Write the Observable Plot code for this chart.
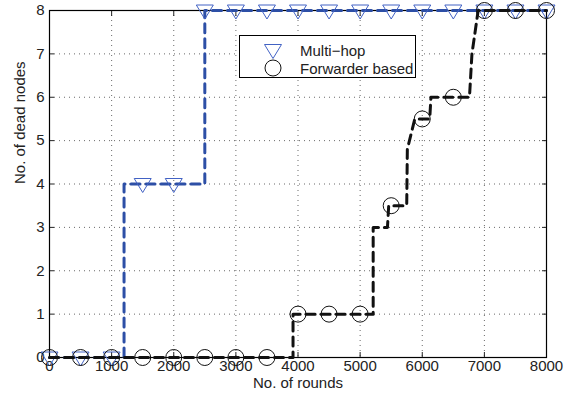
<!DOCTYPE html>
<html>
<head>
<meta charset="utf-8">
<script src="https://cdn.jsdelivr.net/npm/d3@7"></script>
<script src="https://cdn.jsdelivr.net/npm/@observablehq/plot@0.6"></script>
<style>
  html, body { margin: 0; padding: 0; background: #fff; }
  #wrap { position: relative; width: 574px; height: 398px; font-family: "Liberation Sans", Arial, sans-serif; }
  #legend { position: absolute; left: 239px; top: 35px; width: 175px; height: 41px; border: 1px solid #000; background: #fff; box-sizing: content-box; }
  #legend .row { position: absolute; left: 0; height: 18px; display: flex; align-items: center; font-size: 15px; color: #222; }
  #legend svg { width: 60px; height: 18px; }
</style>
</head>
<body>
<div id="wrap"></div>
<script>
// ---- data ----
const rounds = [0, 500, 1000, 1500, 2000, 2500, 3000, 3500, 4000, 4500, 5000, 5500, 6000, 6500, 7000, 7500, 8000];
const multiHop = [0, 0, 0, 4, 4, 8, 8, 8, 8, 8, 8, 8, 8, 8, 8, 8, 8];
const forwarder = [0, 0, 0, 0, 0, 0, 0, 0, 1, 1, 1, 3.5, 5.5, 6, 8, 8, 8];

const multiHopLineX = [0, 1200, 1200, 2500, 2500, 8000];
const multiHopLineY = [0, 0, 4, 4, 8, 8];
const forwarderLineX = [0, 3920, 3920, 5210, 5210, 5440, 5460, 5750, 5760, 5880, 6120, 6140, 6760, 6800, 6900, 8000];
const forwarderLineY = [0, 0, 1, 1, 3, 3, 3.5, 3.5, 4.8, 5.5, 5.5, 6, 6, 7, 8, 8];

const xTicks = [0, 1000, 2000, 3000, 4000, 5000, 6000, 7000, 8000];
const yTicks = [0, 1, 2, 3, 4, 5, 6, 7, 8];
const seriesNames = ["Multi\u2212hop", "Forwarder based"];
const xLabel = "No. of rounds";
const yLabel = "No. of dead nodes";

// ---- tables ----
const markers = rounds.map((r, i) => ({x: r, mh: multiHop[i], fw: forwarder[i]}));
const mhLine = multiHopLineX.map((x, i) => ({x, y: multiHopLineY[i]}));
const fwLine = forwarderLineX.map((x, i) => ({x, y: forwarderLineY[i]}));

const blueLine = "#2d4fa6";
const blueMark = "#4262c4";

const triDown = {
  draw(ctx) {
    ctx.moveTo(-8.5, -5.5);
    ctx.lineTo(8.5, -5.5);
    ctx.lineTo(0, 8.5);
    ctx.closePath();
  }
};

const gridStyle = {stroke: "#444", strokeOpacity: 0.8, strokeDasharray: "1,4"};

const chart = Plot.plot({
  width: 574,
  height: 398,
  marginLeft: 49,
  marginRight: 28,
  marginTop: 10,
  marginBottom: 41,
  style: {fontFamily: "'Liberation Sans', Arial, sans-serif", fontSize: "15px", color: "#222", background: "#fff"},
  x: {domain: [0, 8000]},
  y: {domain: [0, 8]},
  marks: [
    Plot.gridX(xTicks, gridStyle),
    Plot.gridY(yTicks, gridStyle),
    Plot.axisX(xTicks, {anchor: "bottom", tickSize: 0, tickPadding: 3, label: null, tickFormat: d => String(d)}),
    Plot.axisY(yTicks, {anchor: "left", tickSize: 0, tickPadding: 5, label: null, tickFormat: d => String(d)}),
    Plot.axisX(xTicks, {anchor: "bottom", tickSize: -5, label: null, tickFormat: () => ""}),
    Plot.axisX(xTicks, {anchor: "top", tickSize: -5, label: null, tickFormat: () => ""}),
    Plot.axisY(yTicks, {anchor: "left", tickSize: -5, label: null, tickFormat: () => ""}),
    Plot.axisY(yTicks, {anchor: "right", tickSize: -5, label: null, tickFormat: () => ""}),
    Plot.frame({stroke: "#000", strokeWidth: 1.2}),
    Plot.line(mhLine, {x: "x", y: "y", stroke: blueLine, strokeWidth: 3, strokeDasharray: "9,6", curve: "linear"}),
    Plot.dot(markers, {x: "x", y: "mh", symbol: triDown, stroke: blueMark, fill: "none", strokeWidth: 1}),
    Plot.line(fwLine, {x: "x", y: "y", stroke: "#111", strokeWidth: 3, strokeDasharray: "9,6", curve: "linear"}),
    Plot.dot(markers, {x: "x", y: "fw", r: 8, stroke: "#111", fill: "none", strokeWidth: 1}),
    Plot.text([xLabel], {frameAnchor: "bottom", dy: 30, fill: "#222", fontSize: 15}),
    Plot.text([yLabel], {frameAnchor: "left", dx: -29, rotate: -90, fill: "#222", fontSize: 15})
  ]
});

const wrap = document.getElementById("wrap");
wrap.appendChild(chart);

const legend = document.createElement("div");
legend.id = "legend";
legend.innerHTML = `
  <div class="row" style="top:5px"><svg viewBox="0 0 60 18"><path d="M24.5,3.5 L41.5,3.5 L33,17.5 Z" fill="none" stroke="${blueMark}" stroke-width="1"/></svg><span>${seriesNames[0]}</span></div>
  <div class="row" style="top:23px"><svg viewBox="0 0 60 18"><circle cx="33" cy="9" r="8" fill="none" stroke="#111" stroke-width="1"/></svg><span>${seriesNames[1]}</span></div>`;
wrap.appendChild(legend);
</script>
</body>
</html>
